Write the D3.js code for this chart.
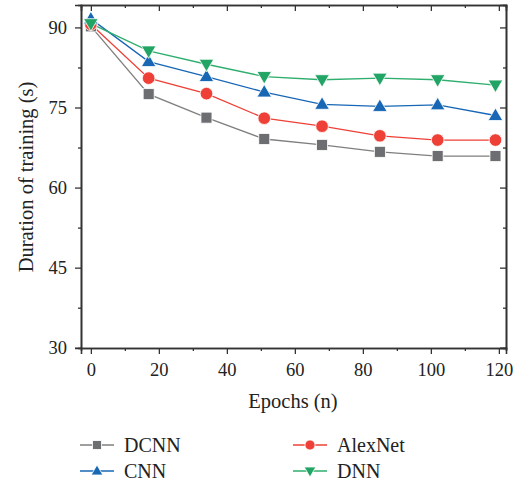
<!DOCTYPE html>
<html>
<head>
<meta charset="utf-8">
<script src="https://cdn.jsdelivr.net/npm/d3@7"></script>
<style>
  body { margin: 0; background: #fff; }
  svg { font-family: "Liberation Serif", "DejaVu Serif", serif; }
</style>
</head>
<body>
<svg id="chart" width="516" height="481"></svg>
<script>
const epochs = [0, 17, 34, 51, 68, 85, 102, 119];
const dcnn = [90.2, 77.5, 73.1, 69.1, 68.0, 66.7, 65.9, 65.9];
const alexNet = [90.6, 80.5, 77.6, 73.0, 71.5, 69.7, 68.9, 68.9];
const cnn = [91.6, 83.6, 80.8, 77.9, 75.6, 75.2, 75.5, 73.5];
const dnn = [90.7, 85.6, 83.1, 80.8, 80.2, 80.5, 80.2, 79.2];
const yTicks = [30, 45, 60, 75, 90];
const xTicks = [0, 20, 40, 60, 80, 100, 120];

const series = [
  {name: 'DCNN', values: dcnn, color: '#6d6e71', line: '#7f7f7f', symbol: 'square'},
  {name: 'AlexNet', values: alexNet, color: '#ee4036', line: '#ee4036', symbol: 'circle'},
  {name: 'CNN', values: cnn, color: '#1767b5', line: '#1767b5', symbol: 'up'},
  {name: 'DNN', values: dnn, color: '#22a465', line: '#2fae6e', symbol: 'down'}
];

const svg = d3.select('#chart');
const plotL = 81, plotR = 506, plotT = 5, plotB = 348;

const x = d3.scaleLinear().domain([-2.9, 122.1]).range([plotL, plotR]);
const y = d3.scaleLinear().domain([29.95, 94.2]).range([plotB, plotT]);

function marker(g, sym, color, k) {
  if (sym === 'square') {
    g.append('rect').attr('x', -5.5 * k).attr('y', -5.5 * k).attr('width', 11 * k).attr('height', 11 * k)
      .attr('fill', color).attr('stroke', '#fff').attr('stroke-width', 0.8);
  } else if (sym === 'circle') {
    g.append('circle').attr('r', 6.3 * k).attr('fill', color).attr('stroke', '#fff').attr('stroke-width', 0.8);
  } else if (sym === 'up') {
    g.append('path').attr('d', `M0,${-7.5 * k}L${7.3 * k},${5 * k}L${-7.3 * k},${5 * k}Z`).attr('fill', color)
      .attr('stroke', '#fff').attr('stroke-width', 0.8);
  } else {
    g.append('path').attr('d', `M0,${7.5 * k}L${7.3 * k},${-5 * k}L${-7.3 * k},${-5 * k}Z`).attr('fill', color)
      .attr('stroke', '#fff').attr('stroke-width', 0.8);
  }
}

// axes
const axisColor = '#333';
const minorY = [37.5, 52.5, 67.5, 82.5];
const minorX = [10, 30, 50, 70, 90, 110];
svg.append('g').attr('transform', `translate(${plotL},0)`)
  .call(d3.axisLeft(y).tickValues(yTicks).tickSize(6).tickPadding(8));
svg.append('g').attr('transform', `translate(${plotL},0)`)
  .call(d3.axisLeft(y).tickValues(minorY).tickSize(3).tickFormat(''));
svg.append('g').attr('transform', `translate(0,${plotB})`)
  .call(d3.axisBottom(x).tickValues(xTicks).tickSize(6).tickPadding(9));
svg.append('g').attr('transform', `translate(0,${plotB})`)
  .call(d3.axisBottom(x).tickValues(minorX).tickSize(3).tickFormat(''));
// top and right with inward ticks
svg.append('g').attr('transform', `translate(0,${plotT})`)
  .call(d3.axisTop(x).tickValues(xTicks).tickSize(-6).tickFormat(''));
svg.append('g').attr('transform', `translate(0,${plotT})`)
  .call(d3.axisTop(x).tickValues(minorX).tickSize(-3).tickFormat(''));
svg.append('g').attr('transform', `translate(${plotR},0)`)
  .call(d3.axisRight(y).tickValues(yTicks).tickSize(-6).tickFormat(''));
svg.append('g').attr('transform', `translate(${plotR},0)`)
  .call(d3.axisRight(y).tickValues(minorY).tickSize(-3).tickFormat(''));

svg.selectAll('.domain').attr('stroke', axisColor).attr('stroke-width', 1.6);
svg.selectAll('.tick line').attr('stroke', axisColor).attr('stroke-width', 1.3);
svg.selectAll('.tick text').attr('fill', '#222').style('font-size', '18.5px')
  .style('font-family', '"Liberation Serif", "DejaVu Serif", serif');

// axis titles
svg.append('text').attr('x', 293).attr('y', 408).attr('text-anchor', 'middle')
  .attr('fill', '#222').style('font-size', '20.5px').text('Epochs (n)');
svg.append('text').attr('transform', 'translate(33,177) rotate(-90)').attr('text-anchor', 'middle')
  .attr('fill', '#222').style('font-size', '20.5px').text('Duration of training (s)');

// lines + markers
const line = d3.line().x((d, i) => x(epochs[i])).y(d => y(d));
series.forEach(s => {
  svg.append('path').datum(s.values).attr('d', line)
    .attr('fill', 'none').attr('stroke', s.line).attr('stroke-width', 1.3);
});
series.forEach(s => {
  s.values.forEach((v, i) => {
    const g = svg.append('g').attr('transform', `translate(${x(epochs[i])},${y(v)})`);
    marker(g, s.symbol, s.color, 1);
  });
});

// legend
const legendPos = [
  {lx: 80, ly: 445}, {lx: 293, ly: 445},
  {lx: 80, ly: 471}, {lx: 293, ly: 471}
];
series.forEach((s, k) => {
  const p = legendPos[k];
  svg.append('line').attr('x1', p.lx).attr('x2', p.lx + 34).attr('y1', p.ly).attr('y2', p.ly)
    .attr('stroke', s.line).attr('stroke-width', 1.3);
  const g = svg.append('g').attr('transform', `translate(${p.lx + 17},${p.ly})`);
  marker(g, s.symbol, s.color, 0.8);
  svg.append('text').attr('x', p.lx + 44).attr('y', p.ly + 7)
    .attr('fill', '#222').style('font-size', '20px').text(s.name);
});
</script>
</body>
</html>
